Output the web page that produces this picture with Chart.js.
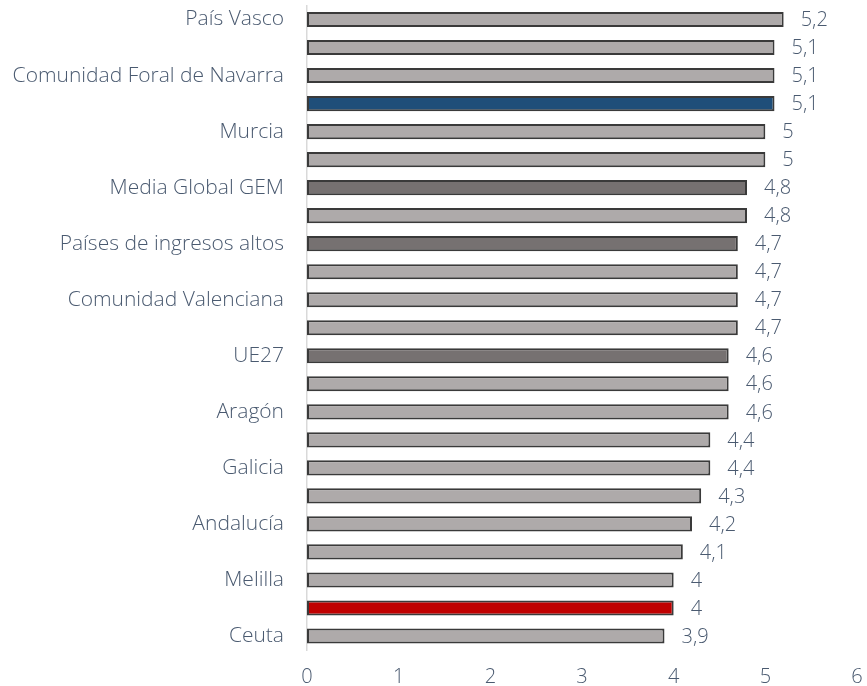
<!DOCTYPE html>
<html>
<head>
<meta charset="utf-8">
<script src="https://cdn.jsdelivr.net/npm/chart.js@4"></script>
<style>
  html, body { margin: 0; padding: 0; background: #fff; }
  #wrap { width: 867px; height: 686px; }
</style>
</head>
<body>
<div id="wrap"><canvas id="barChart" width="867" height="686"></canvas></div>
<script>
'use strict';

// categories (only every other label is printed in the original)
var labels = [
    'País Vasco', '', 'Comunidad Foral de Navarra', '', 'Murcia', '',
    'Media Global GEM', '', 'Países de ingresos altos', '', 'Comunidad Valenciana', '',
    'UE27', '', 'Aragón', '', 'Galicia', '', 'Andalucía', '', 'Melilla', '', 'Ceuta'
];
var values = [5.2, 5.1, 5.1, 5.1, 5, 5, 4.8, 4.8, 4.7, 4.7, 4.7, 4.7,
              4.6, 4.6, 4.6, 4.4, 4.4, 4.3, 4.2, 4.1, 4, 4, 3.9];
// bar kind: 0 region, 1 reference group, 2 highlighted (blue), 3 highlighted (red)
var kinds = [0, 0, 0, 2, 0, 0, 1, 0, 1, 0, 0, 0,
             1, 0, 0, 0, 0, 0, 0, 0, 0, 3, 0];
var xTicks = [0, 1, 2, 3, 4, 5, 6];

var kindColors = ['#AEAAAA', '#767171', '#1F4E79', '#C00000'];
var textColor = '#4A5A70';
var fontFamily = '"Open Sans", sans-serif';

// draw the value labels to the right of each bar
var valueLabels = {
    id: 'valueLabels',
    afterDatasetsDraw: function (chart) {
        var ctx = chart.ctx;
        var meta = chart.getDatasetMeta(0);
        ctx.save();
        ctx.font = '300 20px ' + fontFamily;
        ctx.fillStyle = textColor;
        ctx.textAlign = 'left';
        ctx.textBaseline = 'middle';
        meta.data.forEach(function (bar, i) {
            var txt = String(values[i]).replace('.', ',');
            ctx.fillText(txt, bar.x + 17, bar.y + 1);
        });
        ctx.restore();
    }
};

var barChartCanvas = document.getElementById('barChart').getContext('2d');
var barChart = new Chart(barChartCanvas, {
    type: 'bar',
    data: {
        labels: labels,
        datasets: [{
            data: values,
            backgroundColor: kinds.map(function (k) { return kindColors[k]; }),
            borderColor: '#3A3A3A',
            borderWidth: 2,
            borderSkipped: false,
            barPercentage: 0.54,
            categoryPercentage: 1.0
        }]
    },
    options: {
        indexAxis: 'y',
        responsive: false,
        animation: false,
        layout: { padding: { top: 5.5, right: 10, bottom: 0, left: 0 } },
        plugins: {
            legend: { display: false },
            tooltip: { enabled: false }
        },
        scales: {
            x: {
                min: 0,
                max: 6,
                afterBuildTicks: function (axis) {
                    axis.ticks = xTicks.map(function (v) { return { value: v }; });
                },
                afterFit: function (axis) {
                    axis.height = 36;
                    axis.paddingLeft = 0;
                    axis.paddingRight = 0;
                },
                grid: { display: false, drawTicks: false },
                border: { display: false },
                ticks: {
                    color: textColor,
                    font: { family: fontFamily, size: 20, weight: '300' },
                    padding: 15
                }
            },
            y: {
                grid: { display: false, drawTicks: false },
                border: { display: true, color: '#D9D9D9', width: 1.5 },
                afterFit: function (axis) {
                    axis.width = 307;
                    axis.paddingTop = 0;
                    axis.paddingBottom = 0;
                },
                ticks: {
                    autoSkip: false,
                    color: textColor,
                    font: { family: fontFamily, size: 21, weight: '300' },
                    padding: 23
                }
            }
        }
    },
    plugins: [valueLabels]
});
</script>
</body>
</html>
